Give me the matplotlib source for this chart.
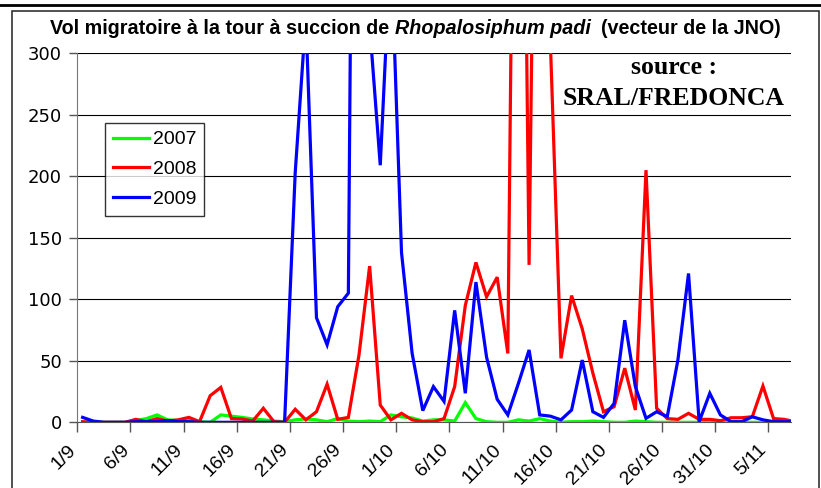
import numpy as np
import matplotlib
matplotlib.use("Agg")
import matplotlib.pyplot as plt
import matplotlib.transforms as mtransforms
from matplotlib.lines import Line2D
from matplotlib.patches import Rectangle

# daily catches, one value per day from 1/9 to 7/11
v2007 = [0, 0, 0, 0, 0, 1.5, 3, 6, 2, 1.5, 1.5, 0.5, 0, 6, 5, 4, 2.7, 2, 1, 0.5,
         2, 2.7, 2, 0.5, 3, 1, 0.5, 1, 0.5, 6, 4.5, 3.5, 1, 2, 2, 1,
         16, 3, 0.5, 0, 0, 2, 1, 3, 1, 0, 0.5, 0.5, 1, 0.5, 0, 0, 1, 0.5,
         0, 0, 0, 0, 0, 0, 0, 0, 0, 0, 0, 0, 0, 0]
v2008 = [0.5, 0, 0, 0, 0, 2.4, 0.5, 3, 1, 2, 4, 0.5, 21.6, 28.4, 3, 2.7, 1, 11.4, 0.5, 0,
         10.6, 2, 8.6, 31, 2.4, 4, 54.7, 127, 14, 2, 7.3, 2, 0.5, 0.5, 3, 29,
         95, 130, 102, 118, 56, 900, 128, 830, 310, 52, 103, 76, 40, 8.6, 12.7, 44, 10, 205,
         11.4, 3, 2.4, 7.3, 2.4, 2.4, 1.3, 3.7, 3.7, 4.5, 29.5, 3, 2.4, 0.5]
v2009 = [4, 1, 0, 0, 0, 0.5, 0.5, 0.5, 1.5, 0.5, 0.5, 0, 0, 0, 0, 0, 0, 0, 0, 0,
         203, 330, 85, 63, 94, 105, 1200, 323, 209, 390, 138, 56, 9.5, 29, 17, 91,
         23.6, 114, 53, 18.7, 6, 31.7, 58.8, 6, 5, 2, 10, 50.6, 8.6, 4, 15.4, 83, 29, 3.2,
         8.6, 4.6, 50.6, 121, 0.5, 23.6, 6, 0.5, 0.5, 4.5, 2, 0.5, 0.5, 0.5]
tick_labels = ["1/9", "6/9", "11/9", "16/9", "21/9", "26/9", "1/10", "6/10",
               "11/10", "16/10", "21/10", "26/10", "31/10", "5/11"]
series = [("2007", v2007, "#00ff00"), ("2008", v2008, "#ff0000"), ("2009", v2009, "#0000ff")]

W, H = 821, 488


def fx(px):
    return px / W


def fy(py):
    return 1 - py / H


plt.rcParams["font.family"] = ["Liberation Sans", "DejaVu Sans"]
fig = plt.figure(figsize=(W / 100, H / 100), dpi=100)

# frame around the chart and the heavy rule above it
fig.add_artist(Line2D([0, 1], [fy(5), fy(5)], transform=fig.transFigure, color="black", lw=2))
fig.add_artist(Rectangle((fx(11.5), fy(500)), fx(819.3 - 11.5), (500 - 11.5) / H,
                         transform=fig.transFigure, fill=False, ec="#222222", lw=1.1))

x0, x1, ytop, ybot = 77.3, 790.5, 53.3, 422.3
ax = fig.add_axes([fx(x0), fy(ybot), fx(x1 - x0), (ybot - ytop) / H])
day_w = 10.63
ax.set_xlim(0, (x1 - x0) / day_w)
ax.set_ylim(0, 300)

x = np.arange(len(v2007)) + 0.5
for i, (name, vals, col) in enumerate(series):
    ax.plot(x, vals, color=col, lw=2.3, label=name, zorder=3 + i, solid_joinstyle="miter")

ax.set_yticks(np.arange(0, 301, 50))
ax.set_yticklabels([str(v) for v in range(0, 301, 50)], family="DejaVu Sans", fontsize=13)
ax.yaxis.grid(True, color="black", lw=0.8)
ax.set_axisbelow(True)

ax.set_xticks(np.arange(len(tick_labels)) * 5)
ax.set_xticklabels(tick_labels, rotation=45, ha="right", va="center",
                   rotation_mode="anchor", fontsize=14)
ax.tick_params(axis="x", length=7, width=1, color="#555555", pad=11)
ax.tick_params(axis="y", length=6, width=1, color="#555555", pad=5)
shift = mtransforms.ScaledTranslation(-4 / 100, 0, fig.dpi_scale_trans)
for lab in ax.get_xticklabels():
    lab.set_transform(lab.get_transform() + shift)
ax.spines["top"].set_visible(False)
ax.spines["right"].set_visible(False)
ax.spines["left"].set_color("#777777")
ax.spines["bottom"].set_color("#555555")

leg = ax.legend(loc="upper left", bbox_to_anchor=((105 - x0) / (x1 - x0), 1 - (123 - ytop) / (ybot - ytop)),
                borderaxespad=0, fontsize=14, frameon=True, fancybox=False, handlelength=1.85,
                handletextpad=0.2, labelspacing=0.62, borderpad=0.4)
leg.get_frame().set_edgecolor("black")
leg.get_frame().set_linewidth(1)

# title with the species name in italics, assembled piece by piece
parts = [("Vol migratoire à la tour à succion de ", "normal"),
         ("Rhopalosiphum padi", "italic"),
         ("  (vecteur de la JNO)", "normal")]
renderer = fig.canvas.get_renderer()
texts = []
for s, style in parts:
    t = fig.text(0, fy(34), s, fontsize=14.2, weight="bold", style=style, va="baseline")
    texts.append(t)
widths = [t.get_window_extent(renderer).width for t in texts]
left = 415.5 - sum(widths) / 2
for t, w in zip(texts, widths):
    t.set_x(fx(left))
    left += w

fig.text(fx(674), fy(74), "source :", family="Liberation Serif", weight="bold",
         fontsize=18.5, ha="center", va="baseline")
fig.text(fx(674), fy(105), "SRAL/FREDONCA", family="Liberation Serif", weight="bold",
         fontsize=18.5, ha="center", va="baseline")

fig.savefig("out.png", dpi=100)
